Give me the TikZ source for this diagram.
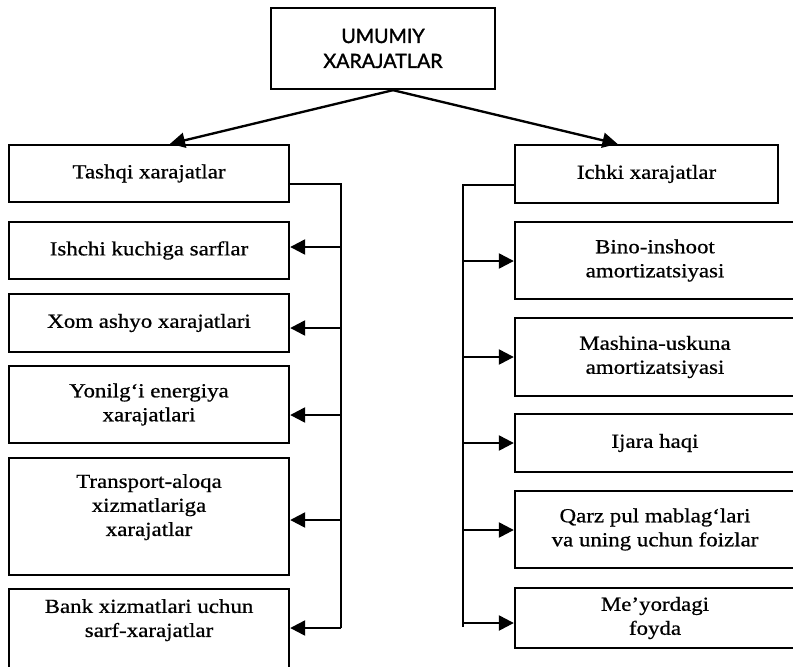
\documentclass[tikz,border=0pt]{standalone}
\usepackage{fontspec}
\setmainfont[FakeStretch=1.15, FakeBold=0.7]{Liberation Serif}
\newfontfamily\titlefont[FakeBold=1.5]{Lato}
\usetikzlibrary{arrows.meta}

\begin{document}
\begin{tikzpicture}[x=0.03cm, y=-0.03cm]
    \tikzset{
        boxstyle/.style={draw, line width=2pt, align=center, inner sep=0pt,
            font=\fontsize{17}{20.5}\selectfont},
        sidebox/.style={boxstyle, minimum width=8.4cm},
        linkstyle/.style={line width=2pt},
        arrowstyle/.style={line width=2pt, -{Triangle[length=4.5mm, width=4.5mm]}}
    }
    \useasboundingbox (0,0) rectangle (793,666);
    \clip (0,0) rectangle (793,666);

    \node[boxstyle, minimum width=6.72cm, minimum height=2.43cm,
        font=\titlefont\fontsize{16.8}{21.3}\selectfont] (top) at (383,48.5) {UMUMIY\\XARAJATLAR};

    % chap ustun
    \begin{scope}
        \node[sidebox, minimum height=1.71cm] (tashqi) at (149,173.5) {Tashqi xarajatlar};
        \node[sidebox, minimum height=1.71cm] (ishchi) at (149,250.5) {Ishchi kuchiga sarflar};
        \node[sidebox, minimum height=1.74cm] (xom) at (149,323) {Xom ashyo xarajatlari};
        \node[sidebox, minimum height=2.31cm] (yonilgi) at (149,404.5) {Yonilg‘i energiya\\xarajatlari};
        \node[sidebox, minimum height=3.51cm, text depth=0.69cm] (transport) at (149,516.5)
            {Transport-aloqa\\xizmatlariga\\xarajatlar};
        \node[sidebox, minimum height=3.51cm, text depth=1.77cm] (bank) at (149,647.5)
            {Bank xizmatlari uchun\\sarf-xarajatlar};
    \end{scope}

    % o'ng ustun
    \begin{scope}
        \node[boxstyle, minimum width=7.89cm, minimum height=1.74cm] (ichki) at (646.5,174) {Ichki xarajatlar};
        \node[sidebox, minimum height=2.31cm] (bino) at (655,260.5) {Bino-inshoot\\amortizatsiyasi};
        \node[sidebox, minimum height=2.34cm] (mashina) at (655,357) {Mashina-uskuna\\amortizatsiyasi};
        \node[sidebox, minimum height=1.74cm] (ijara) at (655,443) {Ijara haqi};
        \node[sidebox, minimum height=2.31cm] (qarz) at (655,529.5) {Qarz pul mablag‘lari\\va uning uchun foizlar};
        \node[sidebox, minimum height=1.8cm] (meyor) at (655,618) {Me’yordagi\\foyda};
    \end{scope}

    \draw[arrowstyle] ([xshift=0.3cm]top.south) -- ([xshift=0.63cm]tashqi.north);
    \draw[arrowstyle] ([xshift=0.3cm]top.south) -- ([xshift=-0.87cm]ichki.north);

    \coordinate (lbus) at (341,184);
    \draw[linkstyle] (tashqi.east |- lbus) -- (lbus) -- (341,628);
    \foreach \b/\y in {ishchi/247, xom/328, yonilgi/415, transport/520, bank/628}
        \draw[arrowstyle] (341,\y) -- (\b.east |- 341,\y);

    \coordinate (rbus) at (463,185);
    \draw[linkstyle] (ichki.west |- rbus) -- (rbus) -- (463,627);
    \foreach \b/\y in {bino/261, mashina/357, ijara/443, qarz/530, meyor/623}
        \draw[arrowstyle] (463,\y) -- (\b.west |- 463,\y);

\end{tikzpicture}
\end{document}
